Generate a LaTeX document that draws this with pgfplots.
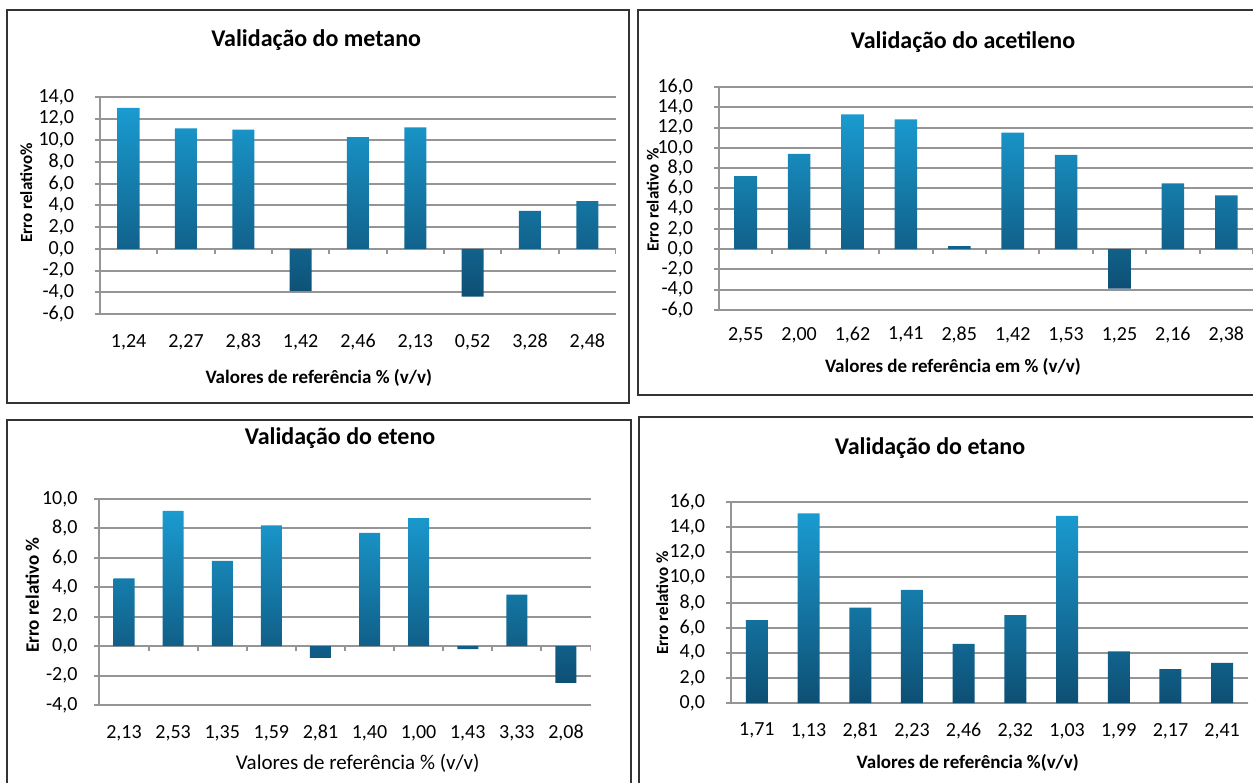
\documentclass[border=0pt]{standalone}
\usepackage{fontspec}
\setmainfont{Carlito}
\usepackage{pgfplots}
\pgfplotsset{compat=1.18}

\definecolor{barlight}{HTML}{1A9BD0}
\definecolor{bardark}{HTML}{0E4F74}
\definecolor{gridc}{HTML}{959595}
\definecolor{framec}{HTML}{333333}

\pgfplotsset{
  painel/.style={
    scale only axis, anchor=south west,
    ybar, enlargelimits=false,
    axis y line=left, axis x line=bottom,
    axis line style={-, draw=gridc, line width=1pt},
    x axis line style={draw=none},
    xtick style={draw=none},
    ytick style={gridc, line width=1pt},
    tick align=outside, major tick length=2.5pt,
    ymajorgrids, grid style={gridc, line width=1pt},
    ytick distance=2,
    xtick=data,
    /pgf/number format/.cd, fixed, fixed zerofill, precision=1, use comma, assume math mode=true,
    /pgfplots/.cd,
    tick label style={font=\fontsize{10}{11}\selectfont},
    y tick label style={xshift=-7pt},
    every axis title shift=0pt,
    title style={anchor=center, font=\bfseries\fontsize{12}{14}\selectfont},
    xlabel style={anchor=center, font=\bfseries\fontsize{9.5}{11}\selectfont},
    ylabel style={anchor=center, font=\bfseries\fontsize{8.5}{10}\selectfont},
    x tick label style={yshift=-4pt},
  },
  barras/.style={draw=none, top color=barlight, bottom color=bardark, bar width=#1},
}

\begin{document}
\begin{tikzpicture}
\useasboundingbox (0,0) rectangle (626.5pt,391pt);

% molduras
\draw[framec, line width=1.2pt] (3.5pt,189.5pt) rectangle (314.5pt,386pt);
\draw[framec, line width=1.2pt] (319pt,193.5pt) rectangle (630pt,386pt);
\draw[framec, line width=1.2pt] (3.5pt,-3pt) rectangle (315.5pt,181pt);
\draw[framec, line width=1.2pt] (319.5pt,-3pt) rectangle (630pt,182.5pt);

% metano
\begin{axis}[painel, at={(50pt,234pt)}, width=258pt, height=108.5pt,
  xmin=-0.5, xmax=8.5, ymin=-6, ymax=14,
  xticklabels={{1,24},{2,27},{2,83},{1,42},{2,46},{2,13},{0,52},{3,28},{2,48}},
  title={Validação do metano}, title style={at={(0.419,1.263)}},
  xlabel={Valores de referência \% (v/v)}, xlabel style={at={(axis description cs:0.424,-0.295)}},
  ylabel={Erro relativo\%}, ylabel style={at={(axis description cs:-0.143,0.558)}},
]
\addplot[barras=11pt] coordinates {(0,13.0) (1,11.1) (2,11.0) (3,-3.9) (4,10.3) (5,11.2) (6,-4.4) (7,3.5) (8,4.4)};
\pgfplotsinvokeforeach{-0.5,0.5,...,8.5}{\draw[gridc, line width=1pt] (axis cs:#1,0) -- ++(0pt,-2.5pt);}
\end{axis}

% acetileno
\begin{axis}[painel, at={(359.5pt,236pt)}, width=267pt, height=111.5pt,
  xmin=-0.5, xmax=9.5, ymin=-6, ymax=16,
  xticklabels={{2,55},{2,00},{1,62},{1,41},{2,85},{1,42},{1,53},{1,25},{2,16},{2,38}},
  title={Validação do acetileno}, title style={at={(0.457,1.202)}},
  xlabel={Valores de referência em \% (v/v)}, xlabel style={at={(axis description cs:0.438,-0.256)}},
  ylabel={Erro relativo \%}, ylabel style={at={(axis description cs:-0.124,0.493)}},
  x tick label style={yshift=1.5pt},
]
\addplot[barras=11.3pt] coordinates {(0,7.2) (1,9.4) (2,13.3) (3,12.8) (4,0.3) (5,11.5) (6,9.3) (7,-3.9) (8,6.5) (9,5.3)};
\pgfplotsinvokeforeach{-0.5,0.5,...,9.5}{\draw[gridc, line width=1pt] (axis cs:#1,0) -- ++(0pt,-2.5pt);}
\end{axis}

% eteno
\begin{axis}[painel, at={(49.75pt,38.5pt)}, width=245.5pt, height=103pt,
  xmin=-0.5, xmax=9.5, ymin=-4, ymax=10,
  xticklabels={{2,13},{2,53},{1,35},{1,59},{2,81},{1,40},{1,00},{1,43},{3,33},{2,08}},
  title={Validação do eteno}, title style={at={(0.490,1.296)}},
  xlabel={Valores de referência \% (v/v)}, xlabel style={at={(axis description cs:0.526,-0.282)}, font=\fontsize{10.5}{12}\selectfont},
  ylabel={Erro relativo \%}, ylabel style={at={(axis description cs:-0.137,0.534)}, font=\bfseries\fontsize{9.5}{11}\selectfont},
  y tick label style={xshift=2pt},
]
\addplot[barras=10.5pt] coordinates {(0,4.6) (1,9.2) (2,5.8) (3,8.2) (4,-0.8) (5,7.7) (6,8.7) (7,-0.2) (8,3.5) (9,-2.5)};
\pgfplotsinvokeforeach{-0.5,0.5,...,9.5}{\draw[gridc, line width=1pt] (axis cs:#1,0) -- ++(0pt,-2.5pt);}
\end{axis}

% etano
\begin{axis}[painel, at={(365.5pt,39.5pt)}, width=258.5pt, height=100.5pt,
  xmin=-0.5, xmax=9.5, ymin=0, ymax=16,
  xticklabels={{1,71},{1,13},{2,81},{2,23},{2,46},{2,32},{1,03},{1,99},{2,17},{2,41}},
  title={Validação do etano}, title style={at={(0.385,1.269)}},
  xlabel={Valores de referência \%(v/v)}, xlabel style={at={(axis description cs:0.458,-0.299)}},
  ylabel={Erro relativo \%}, ylabel style={at={(axis description cs:-0.133,0.498)}},
]
\addplot[barras=11pt] coordinates {(0,6.6) (1,15.1) (2,7.6) (3,9.0) (4,4.7) (5,7.0) (6,14.9) (7,4.1) (8,2.7) (9,3.2)};
\pgfplotsinvokeforeach{-0.5,0.5,...,9.5}{\draw[gridc, line width=1pt] (axis cs:#1,0) -- ++(0pt,-2.5pt);}
\end{axis}
\end{tikzpicture}
\end{document}
